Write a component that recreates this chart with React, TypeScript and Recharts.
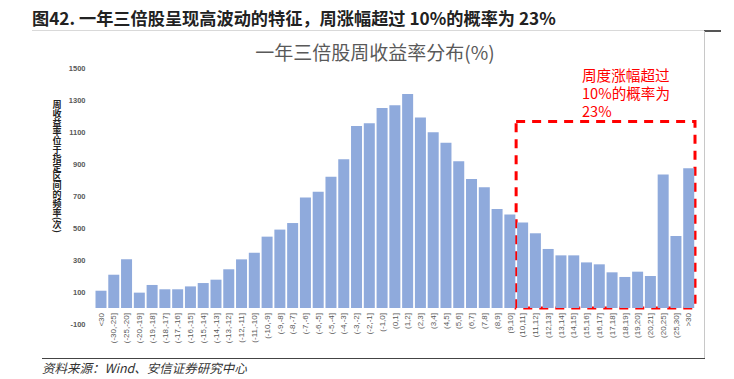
import React from 'react';
import { BarChart, Bar, XAxis, YAxis, ReferenceArea } from 'recharts';

const categories: string[] = [
  '<30', '(-30,-25]', '(-25,-20]', '(-20,-19]', '(-19,-18]', '(-18,-17]', '(-17,-16]', '(-16,-15]',
  '(-15,-14]', '(-14,-13]', '(-13,-12]', '(-12,-11]', '(-11,-10]', '(-10,-9]', '(-9,-8]', '(-8,-7]',
  '(-7,-6]', '(-6,-5]', '(-5,-4]', '(-4,-3]', '(-3,-2]', '(-2,-1]', '(-1,0]', '(0,1]', '(1,2]',
  '(2,3]', '(3,4]', '(4,5]', '(5,6]', '(6,7]', '(7,8]', '(8,9]', '(9,10]', '(10,11]', '(11,12]',
  '(12,13]', '(13,14]', '(14,15]', '(15,16]', '(16,17]', '(17,18]', '(18,19]', '(19,20]', '(20,21]',
  '(20,25]', '(25,30]', '>30',
];

const frequency: number[] = [
  108, 208, 304, 96, 144, 117, 117, 135, 156, 177, 242, 304, 346, 446, 490, 531,
  690, 727, 821, 929, 1137, 1154, 1250, 1267, 1337,
  1190, 1098, 1033, 917, 806, 754, 619, 585, 535, 467,
  369, 329, 329, 285, 273, 223, 194, 227, 200,
  835, 450, 873,
];

const yTicks: number[] = [-100, 100, 300, 500, 700, 900, 1100, 1300, 1500];

const highlightStart = '(10,11]';
const highlightEnd = '>30';
const highlightTop = 1165;

const mainTitle = '图42. 一年三倍股呈现高波动的特征，周涨幅超过 10%的概率为 23%';
const chartTitle = '一年三倍股周收益率分布(%)';
const yLabel = '周收益率位于指定区间的频率(次)';
const noteLines: string[] = ['周度涨幅超过', '10%的概率为', '23%'];
const source = '资料来源：Wind、安信证券研究中心';

const data = categories.map((c, i) => ({ name: c, value: frequency[i] }));

const FONT = '"Noto Sans CJK SC", "Noto Sans", sans-serif';

const XTick = (props: any) => {
  const { x, y, payload } = props;
  const ty = y - 11;
  return (
    <text
      x={x}
      y={ty}
      dy="0.35em"
      transform={`rotate(-90, ${x}, ${ty})`}
      textAnchor="end"
      fontSize={8}
      fill="#595959"
      fontFamily={'"Liberation Sans", "Noto Sans CJK SC", sans-serif'}
    >
      {payload.value}
    </text>
  );
};

const YTick = (props: any) => {
  const { x, y, payload } = props;
  return (
    <text
      x={x}
      y={y}
      dy="0.35em"
      textAnchor="end"
      fontSize={7.5}
      fontWeight="bold"
      fill="#595959"
      fontFamily={'"Liberation Sans", sans-serif'}
    >
      {payload.value}
    </text>
  );
};

const YLabel = () => {
  return (
    <text
      x={57}
      y={100}
      fontSize={9}
      fontWeight="bold"
      fill="#222"
      fontFamily={FONT}
      style={{ writingMode: 'vertical-rl' } as any}
    >
      {yLabel}
    </text>
  );
};

export default function App() {
  return (
    <div
      style={{
        position: 'absolute',
        left: 0,
        top: 0,
        width: 734,
        height: 379,
        background: '#fff',
        overflow: 'hidden',
        fontFamily: FONT,
      }}
    >
      <div
        style={{
          position: 'absolute',
          left: 32,
          top: 6,
          fontSize: 17.2,
          fontWeight: 'bold',
          color: '#222',
          whiteSpace: 'nowrap',
          lineHeight: '24px',
        }}
      >
        {mainTitle}
      </div>
      <div style={{ position: 'absolute', left: 32, top: 30, width: 672, height: 1, background: '#d9d9d9' }} />
      <div style={{ position: 'absolute', left: 704, top: 30, width: 17, height: 1.5, background: '#555' }} />
      <div style={{ position: 'absolute', left: 704, top: 31, width: 1, height: 328, background: '#c8c8c8' }} />
      <div style={{ position: 'absolute', left: 42, top: 358, width: 663, height: 1, background: '#444' }} />
      <div
        style={{
          position: 'absolute',
          left: 0,
          width: 750,
          top: 39,
          textAlign: 'center',
          fontSize: 19,
          color: '#595959',
          lineHeight: '26px',
          whiteSpace: 'nowrap',
        }}
      >
        {chartTitle}
      </div>
      <div
        style={{
          position: 'absolute',
          left: 42,
          top: 359,
          fontSize: 12.5,
          fontStyle: 'italic',
          color: '#333',
          lineHeight: '18px',
          whiteSpace: 'nowrap',
        }}
      >
        {source}
      </div>
      <div style={{ position: 'absolute', left: 0, top: 0 }}>
        <BarChart
          width={734}
          height={379}
          data={data}
          margin={{ top: 68, right: 39, bottom: 5, left: 0 }}
          barCategoryGap={1}
        >
          <XAxis
            dataKey="name"
            interval={0}
            axisLine={false}
            tickLine={false}
            tickSize={0}
            tickMargin={0}
            height={50}
            tick={<XTick />}
          />
          <YAxis
            type="number"
            domain={[-100, 1500]}
            ticks={yTicks}
            interval={0}
            axisLine={false}
            tickLine={false}
            tickSize={0}
            tickMargin={9}
            width={94.5}
            tick={<YTick />}
            label={<YLabel />}
          />
          <Bar dataKey="value" fill="#8faadc" isAnimationActive={false} />
          <ReferenceArea
            x1={highlightStart}
            x2={highlightEnd}
            y1={0}
            y2={highlightTop}
            fill="none"
            fillOpacity={0}
            stroke="#ff0000"
            strokeWidth={3}
            strokeDasharray="9 7"
            ifOverflow="visible"
          />
        </BarChart>
      </div>
      {noteLines.map((l, i) => (
        <div
          key={i}
          style={{
            position: 'absolute',
            left: 582,
            top: 65.5 + i * 18,
            fontSize: 14.6,
            color: '#ff0000',
            lineHeight: '17px',
            height: 17,
            whiteSpace: 'nowrap',
          }}
        >
          {l}
        </div>
      ))}
    </div>
  );
}
